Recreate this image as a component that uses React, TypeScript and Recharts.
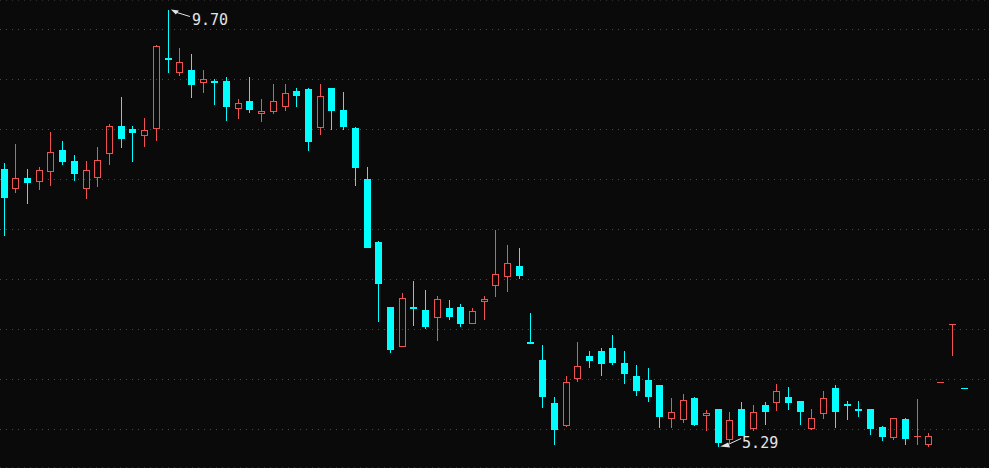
import { ComposedChart, Bar, XAxis, YAxis, CartesianGrid, ReferenceDot } from "recharts";

// daily OHLC, oldest first
const opens = [
  8.09, 7.9, 8.0, 7.97, 8.07, 8.28, 8.17, 7.9, 8.01, 8.25, 8.52, 8.49, 8.43, 8.5, 9.21, 9.07, 9.09, 8.97, 8.98, 8.98,
  8.71, 8.78, 8.66, 8.68, 8.73, 8.88, 8.9, 8.51, 8.91, 8.69, 8.5, 7.99, 7.35, 6.7, 6.3, 6.7, 6.67, 6.6, 6.69, 6.7,
  6.54, 6.76, 6.92, 7.01, 7.11, 6.34, 6.16, 5.73, 5.51, 5.98, 6.2, 6.25, 6.28, 6.13, 6.0, 5.96, 5.91, 5.58, 5.57, 5.78,
  5.61, 5.67, 5.37, 5.67, 5.48, 5.71, 5.74, 5.79, 5.75, 5.48, 5.63, 5.88, 5.72, 5.67, 5.67, 5.49, 5.39, 5.57, 5.4, 5.32,
  5.94, 6.53, 5.88,
];
const highs = [
  8.15, 8.34, 8.09, 8.11, 8.46, 8.37, 8.23, 8.17, 8.31, 8.54, 8.82, 8.52, 8.61, 9.34, 9.7, 9.31, 9.25, 9.09, 9.0, 9.02,
  8.8, 9.02, 8.8, 8.95, 8.95, 8.91, 8.91, 8.95, 8.91, 8.87, 8.51, 8.11, 7.36, 6.7, 6.84, 6.96, 6.87, 6.81, 6.77, 6.73,
  6.69, 6.81, 7.47, 7.32, 7.29, 6.64, 6.31, 5.79, 6.0, 6.34, 6.25, 6.28, 6.42, 6.25, 6.11, 6.08, 5.91, 5.78, 5.82, 5.79,
  5.66, 5.67, 5.64, 5.74, 5.71, 5.74, 5.92, 5.89, 5.75, 5.67, 5.85, 5.91, 5.75, 5.75, 5.67, 5.5, 5.58, 5.58, 5.77, 5.43,
  5.94, 6.53, 5.88,
];
const lows = [
  7.42, 7.86, 7.75, 7.89, 7.93, 8.14, 7.98, 7.8, 7.92, 8.14, 8.31, 8.17, 8.32, 8.38, 9.07, 9.04, 8.82, 8.87, 8.75, 8.58,
  8.61, 8.67, 8.57, 8.66, 8.69, 8.73, 8.28, 8.44, 8.49, 8.49, 7.93, 7.3, 6.56, 6.24, 6.3, 6.52, 6.49, 6.36, 6.58, 6.51,
  6.54, 6.58, 6.81, 6.86, 6.99, 6.33, 5.69, 5.32, 5.5, 5.95, 6.09, 6.01, 6.12, 5.93, 5.81, 5.75, 5.49, 5.49, 5.54, 5.51,
  5.46, 5.29, 5.34, 5.41, 5.46, 5.52, 5.66, 5.67, 5.52, 5.47, 5.58, 5.49, 5.57, 5.6, 5.42, 5.36, 5.37, 5.32, 5.32, 5.3,
  5.94, 6.21, 5.88,
];
const closes = [
  7.81, 8.0, 7.96, 8.08, 8.26, 8.17, 8.05, 8.08, 8.18, 8.52, 8.4, 8.46, 8.48, 9.33, 9.2, 9.17, 8.95, 9.0, 8.97, 8.73,
  8.76, 8.7, 8.68, 8.78, 8.86, 8.84, 8.37, 8.83, 8.69, 8.52, 8.11, 7.3, 6.94, 6.27, 6.79, 6.69, 6.51, 6.78, 6.61, 6.54,
  6.66, 6.78, 7.03, 7.14, 7.02, 6.33, 5.8, 5.47, 5.94, 6.1, 6.16, 6.13, 6.14, 6.03, 5.86, 5.8, 5.6, 5.64, 5.76, 5.52,
  5.63, 5.34, 5.56, 5.41, 5.64, 5.65, 5.85, 5.74, 5.65, 5.58, 5.78, 5.65, 5.71, 5.66, 5.48, 5.4, 5.58, 5.38, 5.4, 5.4,
  5.94, 6.53, 5.88,
];

const gridTicks = [9.498, 8.993, 8.489, 7.984, 7.48, 6.975, 6.471, 5.966, 5.462];

const extremes = [
  { index: 14, value: 9.7, label: "9.70", kind: "high" },
  { index: 61, value: 5.29, label: "5.29", kind: "low" },
];

const UP = "#f05252";
const DOWN = "#00ffff";
const TEXT = "#e4e4e4";

const data = opens.map((open, i) => {
  const close = closes[i];
  const prev = i > 0 ? closes[i - 1] : open;
  const rising = close > open || (close === open && close >= prev);
  return { i, open, high: highs[i], low: lows[i], close, rising };
});

function Candle(props: any) {
  const { x, y, width, height, payload } = props;
  if (x == null || y == null) return null;
  const { open, high, low, close, rising } = payload;
  const color = rising ? UP : DOWN;
  const top = Math.min(y, y + height);
  const h = Math.abs(height);
  const span = high - low;
  const toY = (v: number) => (span > 0 ? top + ((high - v) / span) * h : top);
  const c = Math.round(x + width / 2);
  const yh = Math.round(toY(high));
  const yl = Math.round(toY(low));
  const yTop = Math.round(toY(Math.max(open, close)));
  const yBot = Math.round(toY(Math.min(open, close)));

  if (yBot - yTop < 1) {
    return (
      <g>
        {yl > yh && <line x1={c + 0.5} x2={c + 0.5} y1={yh} y2={yl + 1} stroke={color} />}
        <line x1={c - 3} x2={c + 4} y1={yTop + 0.5} y2={yTop + 0.5} stroke={color} />
      </g>
    );
  }

  if (rising) {
    return (
      <g>
        {yTop > yh && <line x1={c + 0.5} x2={c + 0.5} y1={yh} y2={yTop} stroke={color} />}
        {yl > yBot && <line x1={c + 0.5} x2={c + 0.5} y1={yBot + 1} y2={yl + 1} stroke={color} />}
        <rect x={c - 2.5} y={yTop + 0.5} width={6} height={yBot - yTop} fill="none" stroke={color} />
      </g>
    );
  }

  return (
    <g>
      <line x1={c + 0.5} x2={c + 0.5} y1={yh} y2={yl + 1} stroke={color} />
      <rect x={c - 3} y={yTop} width={7} height={yBot - yTop + 1} fill={color} />
    </g>
  );
}

function Marker(props: any) {
  const { cx, cy, mark } = props;
  if (cx == null || cy == null) return null;
  const fontProps = {
    fontFamily: "DejaVu Sans Mono",
    fontSize: 15,
    fill: TEXT,
  };
  if (mark.kind === "high") {
    const tx = cx + 3;
    return (
      <g>
        <path d={`M${tx},${cy} L${tx + 8},${cy + 1} L${tx + 5},${cy + 5} Z`} fill={TEXT} />
        <line x1={tx + 6} y1={cy + 3} x2={tx + 19} y2={cy + 7} stroke={TEXT} />
        <text x={cx + 24} y={cy + 15} {...fontProps}>
          {mark.label}
        </text>
      </g>
    );
  }
  const tx = cx + 2;
  return (
    <g>
      <path d={`M${tx},${cy} L${tx + 8},${cy - 4} L${tx + 10},${cy + 1} Z`} fill={TEXT} />
      <line x1={tx + 8} y1={cy - 2} x2={tx + 21} y2={cy - 8} stroke={TEXT} />
      <text x={cx + 24} y={cy + 2} {...fontProps}>
        {mark.label}
      </text>
    </g>
  );
}

export default function App() {
  return (
    <div style={{ width: 989, height: 468, background: "#0a0a0a" }}>
      <style>{"body{margin:0;background:#0a0a0a}"}</style>
      <ComposedChart width={989} height={468} data={data} margin={{ top: 0, right: 0, bottom: 0, left: 0 }}>
        <CartesianGrid vertical={false} stroke="#4c4c4c" strokeDasharray="1 5" />
        <XAxis dataKey="i" type="number" domain={[-0.3417, 84.14]} allowDataOverflow hide />
        <YAxis type="number" domain={[5.073, 9.796]} ticks={gridTicks} allowDataOverflow hide />
        <Bar
          dataKey={(d: any) => [d.low, d.high]}
          barSize={7}
          shape={<Candle />}
          isAnimationActive={false}
        />
        {extremes.map((m) => (
          <ReferenceDot
            key={m.label}
            x={m.index}
            y={m.value}
            r={0}
            shape={(p: any) => <Marker {...p} mark={m} />}
          />
        ))}
      </ComposedChart>
    </div>
  );
}
